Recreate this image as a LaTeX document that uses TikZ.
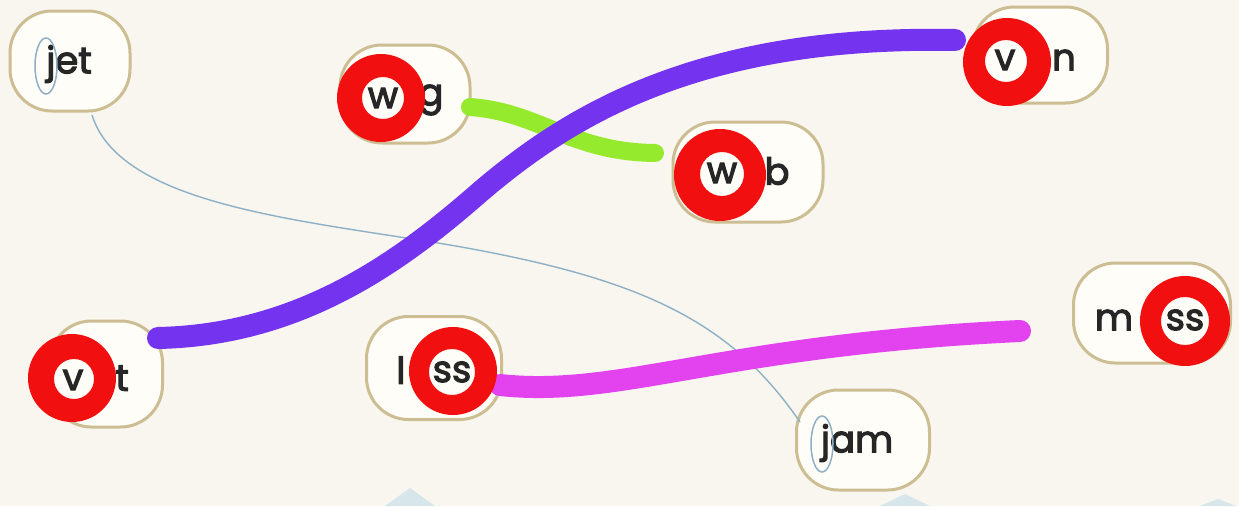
\documentclass[tikz,border=0pt]{standalone}
\usepackage{fontspec}
\setmainfont{Poppins}[FakeBold=3]
\definecolor{bg}{HTML}{F8F6EE}
\definecolor{boxfill}{HTML}{FEFDF8}
\definecolor{boxline}{HTML}{CDBD92}
\definecolor{ringred}{HTML}{F20F0F}
\definecolor{purp}{HTML}{7433EE}
\definecolor{lime}{HTML}{96EA2E}
\definecolor{mag}{HTML}{E243EE}
\definecolor{thinblue}{HTML}{8DB0C6}
\definecolor{tri}{HTML}{D6E6EA}
\begin{document}
\begin{tikzpicture}[x=1pt,y=-1pt,
  pill/.style={draw=boxline,line width=3pt,fill=boxfill,rounded corners=42pt,inner sep=0pt},
  word/.style={font=\fontsize{37}{42}\selectfont,text=black!85,inner sep=0pt,anchor=center},
  thick line/.style={line width=22pt,line cap=round},
  ring/.style={fill=ringred,even odd rule}]
\useasboundingbox (0,0) rectangle (1239,506);
\fill[bg] (0,0) rectangle (1239,506);
\fill[tri] (385,506) -- (410,488) -- (435,506) -- cycle;
\fill[tri] (880,506) -- (905,494) -- (930,506) -- cycle;
\fill[tri] (1200,506) -- (1218,499) -- (1236,506) -- cycle;
% boxes
\node[pill,minimum width=120pt,minimum height=100pt] (jet) at (70,61) {};
\node[pill,minimum width=130pt,minimum height=98pt] (wig) at (405,94) {};
\node[pill,minimum width=135pt,minimum height=96pt] (van) at (1040,55) {};
\node[pill,minimum width=150pt,minimum height=100pt] (web) at (748,172) {};
\node[pill,minimum width=113pt,minimum height=106pt] (vet) at (106,374) {};
\node[pill,minimum width=135pt,minimum height=103pt] (less) at (434,368) {};
\node[pill,minimum width=157pt,minimum height=100pt] (miss) at (1152,313) {};
\node[pill,minimum width=133pt,minimum height=100pt] (jam) at (863,440) {};
% connector end points
\coordinate (jetfoot) at (92,115);
\coordinate (jamtop) at (800,422);
\coordinate (purpA) at (158,338);
\coordinate (purpB) at (955,40);
\coordinate (limeA) at (470,107);
\coordinate (limeB) at (655,153);
\coordinate (magA) at (500,385);
\coordinate (magB) at (1020,331);
% connectors
\draw[thinblue,line width=1.4pt] (jetfoot) .. controls (120,205) and (300,220) .. (450,245)
  .. controls (640,278) and (730,320) .. (jamtop);
\draw[lime,line width=18pt,line cap=round] (limeA) .. controls (540,112) and (570,152) .. (limeB);
\draw[purp,thick line] (purpA) .. controls (300,335) and (400,262) .. (480,192)
  .. controls (570,115) and (700,35) .. (purpB);
\draw[mag,thick line] (magA) .. controls (620,398) and (720,345) .. (magB);
% words
\node[word] (tjet) at (69,64) {jet};
\draw[thinblue,line width=1.5pt] (46,66) ellipse (11pt and 28pt);
\node[word] (tjam) at (857,443) {jam};
\draw[thinblue,line width=1.5pt] (822,444) ellipse (11pt and 28pt);
\node[word] (twig1) at (383,98) {w};
\node[word] (twig2) at (431,100) {g};
\node[word] (tvan1) at (1005,60) {v};
\node[word] (tvan2) at (1064,60) {n};
\node[word] (tweb1) at (722,173) {w};
\node[word] (tweb2) at (777,171) {b};
\node[word] (tvet1) at (73,380) {v};
\node[word] (tvet2) at (122,378) {t};
\node[word] (tless1) at (401,370) {l};
\node[word] (tless2) at (452,372) {ss};
\node[word] (tmiss1) at (1114,320) {m};
\node[word] (tmiss2) at (1185,320) {ss};
% red rings
\fill[ring] (381,98) circle (44pt) (383,98) circle (21pt);
\fill[ring] (1007,62) circle (44pt) (1006,61) circle (21pt);
\fill[ring] (720,175) circle (46pt) (722,174) circle (22pt);
\fill[ring] (72,378) circle (44pt) (74,379) circle (20pt);
\fill[ring] (453,371) circle (44pt) (452,372) circle (23pt);
\fill[ring] (1185,321) circle (45pt) (1185,321) circle (24pt);
\end{tikzpicture}
\end{document}
